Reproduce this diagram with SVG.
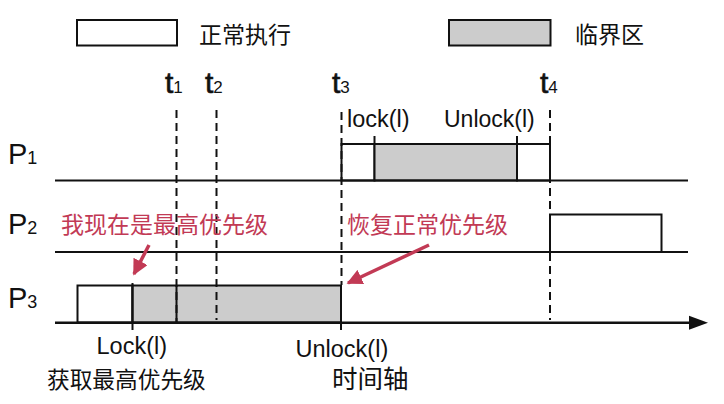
<svg xmlns="http://www.w3.org/2000/svg" width="724" height="404" viewBox="0 0 724 404">
<defs>
<style>
.t{font-family:"Liberation Sans","Noto Sans CJK SC",sans-serif;fill:#111}
.cjk{font-family:"Noto Sans CJK SC","Liberation Sans",sans-serif;fill:#111}
.red{font-family:"Noto Sans CJK SC",sans-serif;fill:#c23a55;font-size:23px}
.box{stroke:#111;stroke-width:2;fill:#fff}
.crit{stroke:#111;stroke-width:2;fill:#cccccc}
.ln{stroke:#111;stroke-width:2;fill:none}
.dash{stroke:#111;stroke-width:2;stroke-dasharray:8 5;fill:none}
.ann{stroke:#c23a55;stroke-width:3.5;fill:none}
</style>
<marker id="ah" viewBox="0 0 10 10" refX="9" refY="5" markerWidth="4.5" markerHeight="4.5" orient="auto" markerUnits="strokeWidth">
<path d="M0,0 L10,5 L0,10 z" fill="#c23a55"/>
</marker>
</defs>
<rect width="724" height="404" fill="#fff"/>

<g id="legend">
<rect class="box" x="77" y="20" width="100" height="25.5"/>
<text class="cjk" x="199" y="43" font-size="23">正常执行</text>
<rect class="crit" x="449" y="20" width="101.5" height="25.5"/>
<text class="cjk" x="575" y="43" font-size="23">临界区</text>
</g>

<g id="time-labels">
<text class="t" x="165" y="93" font-size="30" stroke="#111" stroke-width="0.6">t<tspan font-size="17" stroke-width="0">1</tspan></text>
<text class="t" x="205" y="93" font-size="30" stroke="#111" stroke-width="0.6">t<tspan font-size="17" stroke-width="0">2</tspan></text>
<text class="t" x="332" y="93" font-size="30" stroke="#111" stroke-width="0.6">t<tspan font-size="17" stroke-width="0">3</tspan></text>
<text class="t" x="540" y="93" font-size="30" stroke="#111" stroke-width="0.6">t<tspan font-size="17" stroke-width="0">4</tspan></text>
</g>

<g id="process-labels">
<text class="t" x="8" y="164" font-size="29">P<tspan font-size="18">1</tspan></text>
<text class="t" x="8" y="234" font-size="29">P<tspan font-size="18">2</tspan></text>
<text class="t" x="8" y="308" font-size="29">P<tspan font-size="18">3</tspan></text>
</g>

<g id="P1">
<rect class="box" x="341.5" y="144" width="33" height="36.5"/>
<rect class="crit" x="374.5" y="144" width="142.5" height="36.5"/>
<rect class="box" x="517" y="144" width="33" height="36.5"/>
<line class="ln" x1="374.5" y1="136" x2="374.5" y2="144"/>
<line class="ln" x1="517" y1="136" x2="517" y2="144"/>
<text class="t" x="347" y="127" font-size="23.5">lock(l)</text>
<text class="t" x="444" y="127" font-size="23">Unlock(l)</text>
</g>

<g id="P2">
<rect class="box" x="550" y="214.5" width="111.5" height="37.5"/>
</g>

<g id="P3">
<rect class="box" x="77.5" y="285.5" width="55" height="37"/>
<rect class="crit" x="132.5" y="285.5" width="208.5" height="37"/>
<line class="ln" x1="176.5" y1="285.5" x2="176.5" y2="322.5"/>
<line class="ln" x1="132.5" y1="283" x2="132.5" y2="330"/>
<line class="ln" x1="341" y1="285.5" x2="341" y2="330"/>
<text class="t" x="96.5" y="354" font-size="23.5">Lock(l)</text>
<text class="t" x="295.5" y="357" font-size="23.5">Unlock(l)</text>
<text class="cjk" x="47" y="388" font-size="22.7">获取最高优先级</text>
</g>

<g id="axes">
<line class="ln" x1="55" y1="180.5" x2="688" y2="180.5"/>
<line class="ln" x1="55" y1="252" x2="688" y2="252"/>
<line x1="55" y1="322.7" x2="692" y2="322.7" stroke="#111" stroke-width="2.5"/>
<path d="M689,315.7 L708,322.7 L689,329.7 z" fill="#111"/>
<text class="cjk" x="332" y="388" font-size="25.5">时间轴</text>
</g>

<g id="connectors">
<line class="dash" x1="176.5" y1="110" x2="176.5" y2="322"/>
<line class="dash" x1="216.5" y1="110" x2="216.5" y2="320"/>
<line class="dash" x1="341.5" y1="112" x2="341.5" y2="285"/>
<line class="dash" x1="550" y1="110" x2="550" y2="320"/>
<line class="ann" x1="149" y1="245" x2="134" y2="274" marker-end="url(#ah)"/>
<line class="ann" x1="429" y1="245" x2="348" y2="283" marker-end="url(#ah)"/>
</g>

<g id="annotations">
<text class="red" x="61" y="233">我现在是最高优先级</text>
<text class="red" x="347" y="233">恢复正常优先级</text>
</g>
</svg>
